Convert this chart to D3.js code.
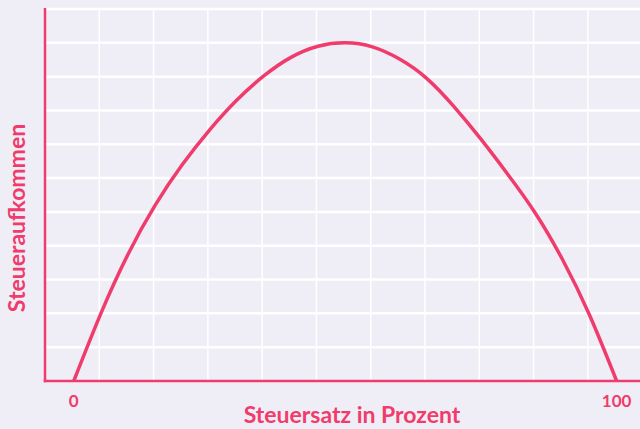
<!DOCTYPE html>
<html>
<head>
  <meta charset="utf-8">
  <script src="https://cdn.jsdelivr.net/npm/d3@7"></script>
  <style>
    body { margin: 0; background: #efeef6; }
    .grid-h { stroke: #ffffff; stroke-width: 2.5px; }
    .grid-v { stroke: #ffffff; stroke-width: 1.5px; }
    .axis-line { stroke: #f03c6c; stroke-width: 2.5px; }
    .curve { fill: none; stroke: #f03c6c; stroke-width: 3.5px; stroke-linejoin: round; }
    text { font-family: Lato, "Open Sans", sans-serif; font-weight: 700; fill: #f03c6c; }
  </style>
</head>
<body>
<div id="chart"></div>
<script>
  // Steuersatz (x, %) and Steueraufkommen (y, grid units)
  var taxRate    = [0, 5, 10, 15, 20, 25, 30, 35, 40, 45, 50, 55, 60, 65, 70, 75, 80, 85, 90, 95, 100];
  var taxRevenue = [0, 2.0, 3.75, 5.2, 6.4, 7.42, 8.3, 9.02, 9.57, 9.9, 10, 9.88, 9.52, 8.95, 8.12, 7.15, 6.1, 4.97, 3.6, 1.95, 0];
  var xTicks = [0, 100];
  var xTitle = "Steuersatz in Prozent";
  var yTitle = "Steueraufkommen";

  var width = 640, height = 429;
  var svg = d3.select("#chart").append("svg")
      .attr("width", width)
      .attr("height", height);

  var xMin = -5.3;
  var x = d3.scaleLinear().domain([xMin, 104.3]).range([45, 640]);
  var y = d3.scaleLinear().domain([0, 11]).range([381, 9]);

  // horizontal grid
  svg.append("g").selectAll("line")
      .data(d3.range(1, 12))
      .enter().append("line")
      .attr("class", "grid-h")
      .attr("x1", x(xMin)).attr("x2", width)
      .attr("y1", function(d) { return y(d); })
      .attr("y2", function(d) { return y(d); });

  // vertical grid
  svg.append("g").selectAll("line")
      .data(d3.range(1, 11).map(function(k) { return xMin + 10 * k; }))
      .enter().append("line")
      .attr("class", "grid-v")
      .attr("x1", function(d) { return x(d); })
      .attr("x2", function(d) { return x(d); })
      .attr("y1", y(11)).attr("y2", y(0));

  // axes
  svg.append("line").attr("class", "axis-line")
      .attr("x1", x(xMin)).attr("x2", x(xMin))
      .attr("y1", y(11) - 1).attr("y2", y(0) + 1.25);
  svg.append("line").attr("class", "axis-line")
      .attr("x1", x(xMin) - 1.25).attr("x2", width)
      .attr("y1", y(0)).attr("y2", y(0));

  // curve
  var points = taxRate.map(function(d, i) { return [d, taxRevenue[i]]; });
  var line = d3.line()
      .x(function(d) { return x(d[0]); })
      .y(function(d) { return y(d[1]); })
      .curve(d3.curveNatural);
  svg.append("path").attr("class", "curve").attr("d", line(points));

  // tick labels
  svg.append("g").selectAll("text")
      .data(xTicks)
      .enter().append("text")
      .attr("x", function(d) { return x(d); })
      .attr("y", 407)
      .attr("text-anchor", "middle")
      .style("font-size", "17px")
      .text(function(d) { return d; });

  // axis titles
  svg.append("text")
      .attr("x", 352).attr("y", 423)
      .attr("text-anchor", "middle")
      .style("font-size", "23px")
      .text(xTitle);

  svg.append("text")
      .attr("transform", "translate(25,218) rotate(-90)")
      .attr("text-anchor", "middle")
      .style("font-size", "23px")
      .text(yTitle);
</script>
</body>
</html>
